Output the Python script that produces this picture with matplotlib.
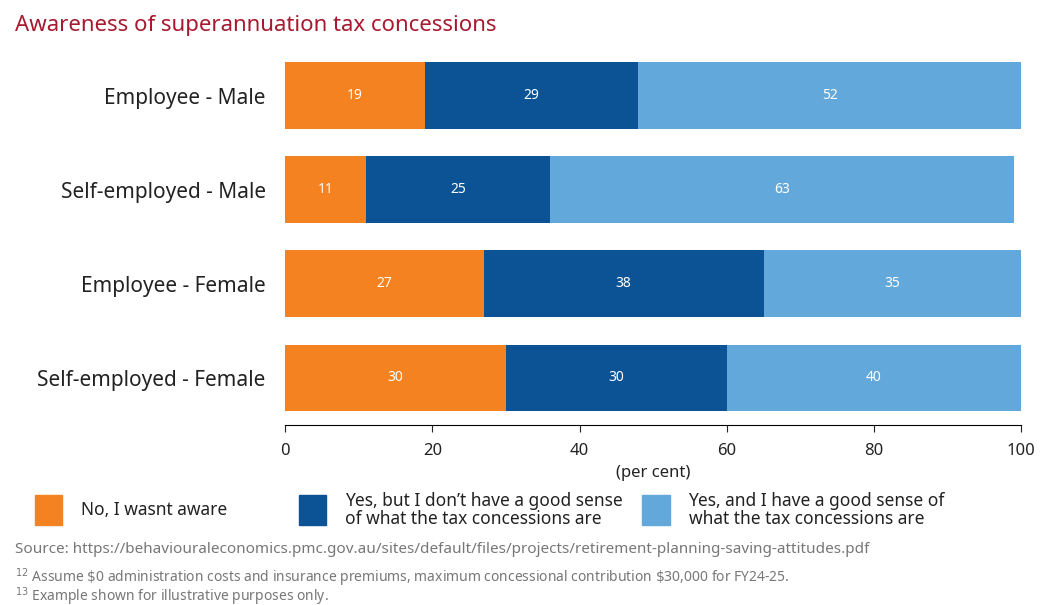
import matplotlib.pyplot as plt
from matplotlib.patches import Rectangle

plt.rcParams['font.family'] = ['Noto Sans', 'DejaVu Sans']

groups = ["Employee - Male", "Self-employed - Male", "Employee - Female", "Self-employed - Female"]
not_aware = [19, 11, 27, 30]
aware_no_sense = [29, 25, 38, 30]
aware_sense = [52, 63, 35, 40]
series_labels = ["No, I wasnt aware",
                 "Yes, but I don\u2019t have a good sense\nof what the tax concessions are",
                 "Yes, and I have a good sense of\nwhat the tax concessions are"]
colors = ["#F58220", "#0B5394", "#62A8DB"]

fig = plt.figure(figsize=(10.56, 6.05), dpi=100)
ax = fig.add_axes([0.27, 0.2975, 0.697, 0.622])

y = list(range(len(groups)))
left = [0] * len(groups)
for vals, c in zip([not_aware, aware_no_sense, aware_sense], colors):
    bars = ax.barh(y, vals, left=left, color=c, height=0.71)
    for b, v in zip(bars, vals):
        ax.text(b.get_x() + b.get_width() / 2, b.get_y() + b.get_height() / 2, str(v),
                ha="center", va="center", color="white", fontsize=10)
    left = [l + v for l, v in zip(left, vals)]

ax.set_ylim(3.5, -0.5)
ax.set_xlim(0, 100)
ax.set_yticks(y)
ax.set_yticklabels(groups, fontsize=15, color="#222222")
ax.tick_params(axis="y", length=0, pad=14)
ax.set_xticks([0, 20, 40, 60, 80, 100])
ax.tick_params(axis="x", labelsize=12, colors="#222222", length=5, pad=8)
for s in ["top", "left", "right"]:
    ax.spines[s].set_visible(False)
ax.set_xlabel("(per cent)", fontsize=12, color="#222222", labelpad=4)

fig.text(0.014, 0.958, "Awareness of superannuation tax concessions", fontsize=16,
         fontweight="bold", color="#A6192E", va="center")

# legend
legend_x = [0.033, 0.283, 0.608]
for lx, lab, c in zip(legend_x, series_labels, colors):
    fig.patches.append(Rectangle((lx, 0.133), 0.026, 0.048, transform=fig.transFigure, color=c))
    fig.text(lx + 0.044, 0.157, lab, fontsize=12.5, color="#222222", va="center", linespacing=1.0)

fig.text(0.014, 0.092, "Source: https://behaviouraleconomics.pmc.gov.au/sites/default/files/projects/retirement-planning-saving-attitudes.pdf",
         fontsize=11, color="#777777", va="center")
fig.text(0.014, 0.045, "$^{12}$ Assume $\\$$0 administration costs and insurance premiums, maximum concessional contribution $\\$$30,000 for FY24-25.",
         fontsize=10, color="#777777", va="center")
fig.text(0.014, 0.014, "$^{13}$ Example shown for illustrative purposes only.",
         fontsize=10, color="#777777", va="center")

fig.savefig("out.png", dpi=100)
